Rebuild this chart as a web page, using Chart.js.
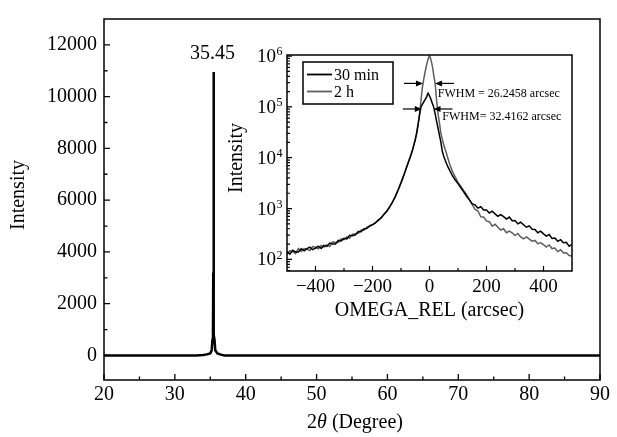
<!DOCTYPE html>
<html><head><meta charset="utf-8">
<script src="https://cdn.jsdelivr.net/npm/chart.js@4.4.1/dist/chart.umd.min.js"></script>
<style>
html,body{margin:0;padding:0;background:#fff;}
#wrap{position:relative;width:617px;height:437px;overflow:hidden;}
#main{position:absolute;left:0;top:0;}
#inset{position:absolute;left:220px;top:40px;}
</style></head><body>
<div id="wrap"><canvas id="main" width="617" height="437"></canvas><canvas id="inset" width="370" height="290"></canvas></div>
<script>
// ---------- main XRD scan ----------
const xrdTheta = [20, 25, 30, 33, 34, 34.5, 35.0, 35.2, 35.3, 35.38, 35.42, 35.45, 35.48, 35.52, 35.6, 35.7, 36.0, 36.5, 37, 40, 50, 60, 70, 80, 90];
const xrdIntensity = [0, 0, 0, 0, 20, 40, 80, 200, 600, 800, 3200, 10950, 3100, 800, 600, 200, 80, 30, 0, 0, 0, 0, 0, 0, 0];
const mainXTicks = [20, 30, 40, 50, 60, 70, 80, 90];
const mainXMinor = [25, 35, 45, 55, 65, 75, 85];
const mainYTicks = [0, 2000, 4000, 6000, 8000, 10000, 12000];
const mainYMinor = [1000, 3000, 5000, 7000, 9000, 11000];
const peakPosition = 35.45;
const peakHeight = 10950;

// ---------- inset rocking curves ----------
const omegaRel = [-500,-490,-480,-470,-460,-450,-440,-430,-420,-410,-400,-390,-380,-370,-360,-350,-340,-330,-320,-310,-300,-290,-280,-270,-260,-250,-240,-230,-220,-210,-200,-190,-180,-170,-160,-150,-140,-130,-120,-110,-100,-90,-80,-70,
-65,-60,-55,-50,-45,-40,-35,-30,-25,-20,-15,-10,-5,0,5,10,15,20,25,30,35,40,45,50,55,60,65,
70,80,90,100,110,120,130,140,150,160,170,180,190,200,210,220,230,240,250,260,270,280,290,300,310,320,330,340,350,360,370,380,390,400,410,420,430,440,450,460,470,480,490,500];
const intensity30min = [142,127,151,140,139,162,148,163,174,155,166,181,163,189,180,209,200,201,236,231,259,252,298,292,305,353,350,399,404,458,479,
520,585,655,760,885,1070,1330,1720,2320,3200,4520,6550,9400,
11300,13900,17500,22500,30500,45000,69000,100000,112000,126000,141000,158000,186000,166000,141000,117000,98000,72000,52000,38000,27500,20000,13200,10700,8900,7600,6500,
5750,4470,3630,3090,2570,2140,1740,1480,
1234,1180,1018,1084,937,939,819,890,786,706,760,692,621,681,574,579,499,537,479,429,457,391,388,334,359,317,287,308,258,262,226,244,213,216,182,197];
const intensity2h = [124,148,143,130,163,143,163,157,149,178,173,161,187,175,193,179,220,214,214,252,243,276,261,313,318,325,379,375,430,440,484,
525,595,650,770,880,1080,1340,1740,2344,3236,4571,6607,9550,
11500,14100,17800,22900,30900,45700,72400,132000,240000,355000,501000,676000,871000,1040000,851000,631000,417000,282000,132000,72400,47900,30200,22900,17800,14500,12000,9550,
7700,5450,4200,3280,2720,2250,1880,1490,
1200,960,894,689,685,565,552,451,489,427,378,401,335,360,334,294,323,276,253,276,251,228,236,203,211,194,175,192,163,167,142,154,133,135,119,117];
const seriesLabels = ['30 min', '2 h'];
const insetXTicks = [-400, -200, 0, 200, 400];
const insetXMinor = [-300, -100, 100, 300];
const insetYTicks = [1e2, 1e3, 1e4, 1e5, 1e6];
const insetYMinor = [60,70,80,90,200,300,400,500,600,700,800,900,2e3,3e3,4e3,5e3,6e3,7e3,8e3,9e3,2e4,3e4,4e4,5e4,6e4,7e4,8e4,9e4,2e5,3e5,4e5,5e5,6e5,7e5,8e5,9e5];
const fwhmTexts = ['FWHM = 26.2458 arcsec', 'FWHM= 32.4162 arcsec'];
const fwhmLevel = [2.9e5, 9.1e4];
const fwhmLeftTip = [-23, -27];
const fwhmRightTip = [19.5, 14];
const fwhmTextAt = [[29, 1.8e5], [45, 6.3e4]];

const SERIF = "'Liberation Serif', 'Times New Roman', serif";
const BLACK = '#000000';
const GREY = '#5e5e5e';

const frameTicks = {
  id: 'frameTicks',
  afterDatasetsDraw(chart, args, o) {
    const {ctx, chartArea: a, scales} = chart;
    ctx.save();
    ctx.strokeStyle = '#000';
    ctx.lineWidth = o.lineWidth;
    ctx.strokeRect(a.left, a.top, a.right - a.left, a.bottom - a.top);
    ctx.lineWidth = o.tickWidth;
    ctx.beginPath();
    const xt = (list, len) => list.forEach(v => { const x = scales.x.getPixelForValue(v); ctx.moveTo(x, a.bottom); ctx.lineTo(x, a.bottom - len); });
    const yt = (list, len) => list.forEach(v => { const y = scales.y.getPixelForValue(v); ctx.moveTo(a.left, y); ctx.lineTo(a.left + len, y); });
    xt(o.xMajor, o.major); xt(o.xMinor, o.minor);
    yt(o.yMajor, o.major); yt(o.yMinor, o.minor);
    ctx.stroke();
    ctx.restore();
  }
};

const mainText = {
  id: 'mainText',
  afterDraw(chart) {
    const {ctx, scales} = chart;
    ctx.save();
    ctx.fillStyle = '#000';
    ctx.font = '20px ' + SERIF;
    ctx.textAlign = 'center';
    ctx.textBaseline = 'alphabetic';
    ctx.fillText(peakPosition.toFixed(2), scales.x.getPixelForValue(peakPosition) - 1, scales.y.getPixelForValue(peakHeight) - 13);
    ctx.save();
    ctx.translate(19, 195);
    ctx.rotate(-Math.PI / 2);
    ctx.textBaseline = 'middle';
    ctx.fillText('Intensity', 0, 0);
    ctx.restore();
    const parts = [['2', '20px ' + SERIF], ['\u03B8', 'italic 20px ' + SERIF], [' (Degree)', '20px ' + SERIF]];
    let w = 0;
    parts.forEach(p => { ctx.font = p[1]; w += ctx.measureText(p[0]).width; });
    let x = 355 - w / 2;
    ctx.textAlign = 'left';
    ctx.textBaseline = 'alphabetic';
    parts.forEach(p => { ctx.font = p[1]; ctx.fillText(p[0], x, 428); x += ctx.measureText(p[0]).width; });
    ctx.restore();
  }
};

new Chart(document.getElementById('main'), {
  type: 'scatter',
  data: { datasets: [{
    data: xrdTheta.map((t, i) => ({x: t, y: xrdIntensity[i]})),
    showLine: true, borderColor: BLACK, borderWidth: 2.5, pointRadius: 0, tension: 0
  }]},
  options: {
    responsive: false, animation: false, devicePixelRatio: 1,
    layout: { padding: { left: 0, right: 17, top: 10, bottom: 0 } },
    plugins: { legend: { display: false }, tooltip: { enabled: false },
      frameTicks: { lineWidth: 1.5, tickWidth: 1.3, major: 6, minor: 3.5, xMajor: mainXTicks, xMinor: mainXMinor, yMajor: mainYTicks, yMinor: mainYMinor } },
    scales: {
      x: { type: 'linear', min: 20, max: 90,
        afterBuildTicks: s => { s.ticks = mainXTicks.map(v => ({value: v})); },
        afterFit: s => { s.height = 57; },
        grid: { display: false, drawTicks: false }, border: { display: false },
        ticks: { color: '#000', font: { family: SERIF, size: 20 }, padding: 3, maxRotation: 0, autoSkip: false, callback: v => String(v) } },
      y: { type: 'linear', min: -950, max: 13000,
        afterBuildTicks: s => { s.ticks = mainYTicks.map(v => ({value: v})); },
        afterFit: s => { s.width = 104; },
        grid: { display: false, drawTicks: false }, border: { display: false },
        ticks: { color: '#000', font: { family: SERIF, size: 20 }, padding: 7, autoSkip: false, callback: v => String(v) } }
    }
  },
  plugins: [frameTicks, mainText]
});

const insetText = {
  id: 'insetText',
  afterDraw(chart) {
    const {ctx, scales, chartArea: a} = chart;
    const ds = chart.data.datasets;
    ctx.save();
    ctx.fillStyle = '#000';
    insetYTicks.forEach(v => {
      const y = scales.y.getPixelForValue(v);
      const e = String(Math.round(Math.log10(v)));
      ctx.font = '19px ' + SERIF;
      ctx.textAlign = 'right'; ctx.textBaseline = 'middle';
      const ex = a.left - 11;
      ctx.fillText('10', ex, y + 1);
      ctx.font = '12px ' + SERIF;
      ctx.textAlign = 'left'; ctx.textBaseline = 'middle';
      ctx.fillText(e, ex + 0.5, y - 4);
    });
    ctx.font = '20px ' + SERIF;
    ctx.textAlign = 'center'; ctx.textBaseline = 'middle';
    ctx.fillText('OMEGA_REL (arcsec)', (a.left + a.right) / 2, 271);
    ctx.save();
    ctx.translate(17, 118);
    ctx.rotate(-Math.PI / 2);
    ctx.fillText('Intensity', 0, 0);
    ctx.restore();
    ctx.lineWidth = 1.5;
    ctx.strokeStyle = '#000';
    ctx.strokeRect(a.left + 16, a.top + 7, 90, 42);
    const rows = [a.top + 19.5, a.top + 36.5];
    ds.forEach((d, i) => {
      ctx.strokeStyle = d.borderColor; ctx.lineWidth = 1.8;
      ctx.beginPath(); ctx.moveTo(a.left + 20, rows[i]); ctx.lineTo(a.left + 45, rows[i]); ctx.stroke();
      ctx.fillStyle = '#000';
      ctx.font = '16px ' + SERIF; ctx.textAlign = 'left'; ctx.textBaseline = 'middle';
      ctx.fillText(d.label, a.left + 47, rows[i] + 1);
    });
    const arrow = (xTip, y, dir) => {
      const tail = xTip - dir * 19;
      ctx.strokeStyle = '#000'; ctx.fillStyle = '#000'; ctx.lineWidth = 1.2;
      ctx.beginPath(); ctx.moveTo(tail, y); ctx.lineTo(xTip - dir * 5, y); ctx.stroke();
      ctx.beginPath(); ctx.moveTo(xTip, y); ctx.lineTo(xTip - dir * 7, y - 3); ctx.lineTo(xTip - dir * 7, y + 3); ctx.closePath(); ctx.fill();
    };
    fwhmLevel.forEach((lv, i) => {
      const y = scales.y.getPixelForValue(lv);
      arrow(scales.x.getPixelForValue(fwhmLeftTip[i]), y, 1);
      arrow(scales.x.getPixelForValue(fwhmRightTip[i]), y, -1);
      ctx.fillStyle = '#000';
      ctx.font = '12px ' + SERIF; ctx.textAlign = 'left'; ctx.textBaseline = 'middle';
      ctx.fillText(fwhmTexts[i], scales.x.getPixelForValue(fwhmTextAt[i][0]), scales.y.getPixelForValue(fwhmTextAt[i][1]));
    });
    ctx.restore();
  }
};

new Chart(document.getElementById('inset'), {
  type: 'scatter',
  data: { datasets: [
    { label: seriesLabels[0], data: omegaRel.map((x, i) => ({x, y: intensity30min[i]})), showLine: true, borderColor: BLACK, borderWidth: 1.5, pointRadius: 0, tension: 0 },
    { label: seriesLabels[1], data: omegaRel.map((x, i) => ({x, y: intensity2h[i]})), showLine: true, borderColor: GREY, borderWidth: 1.5, pointRadius: 0, tension: 0 }
  ]},
  options: {
    responsive: false, animation: false, devicePixelRatio: 1,
    layout: { padding: { left: 0, right: 18, top: 15, bottom: 0 } },
    plugins: { legend: { display: false }, tooltip: { enabled: false },
      frameTicks: { lineWidth: 1.5, tickWidth: 1.2, major: 5, minor: 3, xMajor: insetXTicks, xMinor: insetXMinor, yMajor: insetYTicks, yMinor: insetYMinor } },
    scales: {
      x: { type: 'linear', min: -500, max: 500,
        afterBuildTicks: s => { s.ticks = insetXTicks.map(v => ({value: v})); },
        afterFit: s => { s.height = 59; },
        grid: { display: false, drawTicks: false }, border: { display: false },
        ticks: { color: '#000', font: { family: SERIF, size: 19 }, padding: 5, maxRotation: 0, autoSkip: false,
          callback: v => v < 0 ? '\u2212' + Math.abs(v) : String(v) } },
      y: { type: 'logarithmic', min: 59, max: 1.05e6,
        afterBuildTicks: s => { s.ticks = insetYTicks.map(v => ({value: v})); },
        afterFit: s => { s.width = 67; },
        grid: { display: false, drawTicks: false }, border: { display: false },
        ticks: { display: false } }
    }
  },
  plugins: [frameTicks, insetText]
});
</script>
</body></html>
